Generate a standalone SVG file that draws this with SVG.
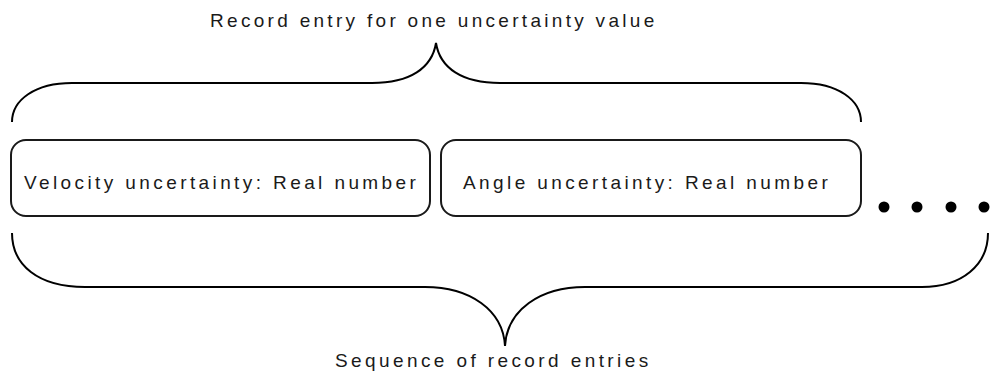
<svg xmlns="http://www.w3.org/2000/svg" width="990" height="371" viewBox="0 0 990 371">
  <style>
    .box { fill: #ffffff; stroke: #1a1a1a; stroke-width: 2; }
    .brace { fill: none; stroke: #000000; stroke-width: 2; }
    .lbl { font-family: "Liberation Sans", Arial, sans-serif; font-size: 19px; fill: #1a1a1a; letter-spacing: 3.4px; }
    .dot { fill: #000000; }
  </style>
  <rect width="990" height="371" fill="#ffffff"/>
  <g id="label-top">
    <text class="lbl" x="210" y="27" style="letter-spacing:3.3px">Record entry for one uncertainty value</text>
  </g>
  <g id="connectors">
    <path class="brace" d="M 12 122 C 12 100, 35 83, 72 83 L 372 83 C 410 83, 432 68, 436 43 C 440 68, 462 83, 500 83 L 801 83 C 838 83, 861 100, 861 122"/>
    <path class="brace" d="M 12 233 C 12 265, 38 287, 85 287 L 425 287 C 470 287, 503 310, 505 346 C 507 310, 540 287, 585 287 L 922 287 C 962 287, 988 265, 988 233"/>
  </g>
  <g id="node-velocity">
    <rect class="box" x="11" y="140" width="419" height="76" rx="15" ry="15"/>
    <text class="lbl" x="24" y="189">Velocity uncertainty: Real number</text>
  </g>
  <g id="node-angle">
    <rect class="box" x="441" y="140" width="420" height="76" rx="15" ry="15"/>
    <text class="lbl" x="463" y="189">Angle uncertainty: Real number</text>
  </g>
  <g id="ellipsis">
    <circle class="dot" cx="884" cy="207" r="5.5"/>
    <circle class="dot" cx="917" cy="207" r="5.5"/>
    <circle class="dot" cx="951" cy="207" r="5.5"/>
    <circle class="dot" cx="984" cy="207" r="5.5"/>
  </g>
  <g id="label-bottom">
    <text class="lbl" x="335" y="367">Sequence of record entries</text>
  </g>
</svg>
